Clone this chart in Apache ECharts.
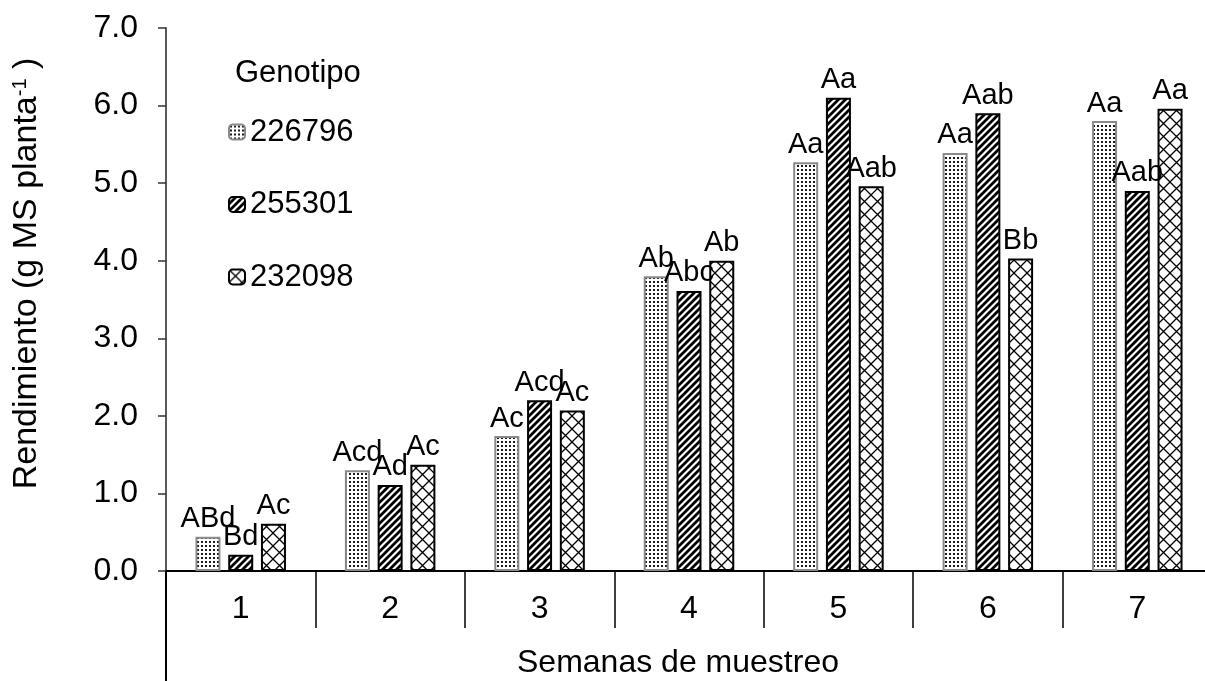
<!DOCTYPE html>
<html>
<head>
<meta charset="utf-8">
<script src="https://cdn.jsdelivr.net/npm/echarts@6/dist/echarts.min.js"></script>
<style>
html,body{margin:0;padding:0;background:#fff;overflow:hidden;}
#chart{width:1205px;height:681px;}
</style>
</head>
<body>
<div id="chart"></div>
<script>
// ---- data ----
var categories = ['1', '2', '3', '4', '5', '6', '7'];
var seriesNames = ['226796', '255301', '232098'];
var values226796 = [0.44, 1.30, 1.74, 3.80, 5.27, 5.39, 5.80];
var values255301 = [0.21, 1.11, 2.20, 3.61, 6.10, 5.90, 4.90];
var values232098 = [0.61, 1.37, 2.07, 4.00, 4.96, 4.03, 5.96];
var letters226796 = ['ABd', 'Acd', 'Ac', 'Ab', 'Aa', 'Aa', 'Aa'];
var letters255301 = ['Bd', 'Ad', 'Acd', 'Abc', 'Aa', 'Aab', 'Aab'];
var letters232098 = ['Ac', 'Ac', 'Ac', 'Ab', 'Aab', 'Bb', 'Aa'];
var yTicks = ['0.0', '1.0', '2.0', '3.0', '4.0', '5.0', '6.0', '7.0'];

var FONT = '"Liberation Sans", Arial, sans-serif';

function makeTile(w, h, draw) {
  var c = document.createElement('canvas');
  c.width = w; c.height = h;
  var ctx = c.getContext('2d');
  ctx.fillStyle = '#fff';
  ctx.fillRect(0, 0, w, h);
  draw(ctx, w, h);
  return c;
}
var dotTile = makeTile(4, 4, function (ctx) {
  ctx.fillStyle = '#1a1a1a';
  ctx.fillRect(1, 1, 2, 2);
});
var stripeTile = makeTile(7, 7, function (ctx, w, h) {
  ctx.strokeStyle = '#000';
  ctx.lineWidth = 2.8;
  ctx.beginPath();
  ctx.moveTo(0, h); ctx.lineTo(w, 0);
  ctx.moveTo(-w / 2, h / 2); ctx.lineTo(w / 2, -h / 2);
  ctx.moveTo(w / 2, h + h / 2); ctx.lineTo(w + w / 2, h / 2);
  ctx.stroke();
});
var crossTile = makeTile(13, 13, function (ctx, w, h) {
  ctx.strokeStyle = '#000';
  ctx.lineWidth = 1.3;
  ctx.beginPath();
  ctx.moveTo(0, 0); ctx.lineTo(w, h);
  ctx.moveTo(0, h); ctx.lineTo(w, 0);
  ctx.stroke();
});

function barSeries(name, values, letters, tile, border) {
  return {
    name: name,
    type: 'bar',
    barWidth: 25,
    barGap: '31%',
    data: values,
    itemStyle: {
      color: { image: tile, repeat: 'repeat' },
      borderColor: border,
      borderWidth: 2
    },
    label: {
      show: true,
      position: 'top',
      distance: 3,
      color: '#000',
      fontFamily: FONT,
      fontSize: 29,
      formatter: function (p) { return letters[p.dataIndex]; }
    }
  };
}

var chart = echarts.init(document.getElementById('chart'));
chart.setOption({
  animation: false,
  backgroundColor: '#fff',
  title: {
    text: 'Genotipo',
    left: 230,
    top: 53,
    textStyle: { fontFamily: FONT, fontSize: 31, fontWeight: 'normal', color: '#000' }
  },
  legend: {
    orient: 'vertical',
    left: 223,
    top: 110,
    itemWidth: 16,
    itemHeight: 15,
    itemGap: 38.5,
    data: seriesNames,
    textStyle: { fontFamily: FONT, fontSize: 31, color: '#000', lineHeight: 34 }
  },
  grid: { left: 166, top: 28, width: 1046, bottom: 110, containLabel: false, outerBoundsMode: 'none' },
  xAxis: [{
    type: 'category',
    data: categories,
    boundaryGap: true,
    axisLine: { lineStyle: { color: '#000', width: 2 } },
    axisTick: { show: true, interval: 0, length: 57, lineStyle: { color: '#000', width: 1.5 } },
    axisLabel: { interval: 0, margin: 22, color: '#000', fontFamily: FONT, fontSize: 32 },
    name: 'Semanas de muestreo',
    nameLocation: 'middle',
    nameGap: 76,
    nameTextStyle: { fontFamily: FONT, fontSize: 32, color: '#000', padding: [0, 22, 0, 0] }
  }, {
    type: 'category',
    data: categories,
    position: 'bottom',
    boundaryGap: true,
    axisLine: { show: false },
    axisLabel: { show: false },
    axisTick: {
      show: true,
      length: 115,
      interval: function (index) { return index === 0; },
      lineStyle: { color: '#000', width: 2 }
    }
  }],
  yAxis: {
    type: 'value',
    min: 0,
    max: 7,
    interval: 1,
    splitLine: { show: false },
    axisLine: { show: true, lineStyle: { color: '#595959', width: 2 } },
    axisTick: { show: true, length: 8, lineStyle: { color: '#333', width: 1.5 } },
    axisLabel: {
      margin: 28,
      color: '#000',
      fontFamily: FONT,
      fontSize: 32,
      formatter: function (v) { return yTicks[Math.round(v)]; }
    },
    name: '{a|Rendimiento (g MS planta}{s|-1}{a| )}',
    nameLocation: 'middle',
    nameGap: 122,
    nameRotate: 90,
    nameTextStyle: {
      padding: [0, 0, 0, 52],
      rich: {
        a: { fontFamily: FONT, fontSize: 34, color: '#000' },
        s: { fontFamily: FONT, fontSize: 20, color: '#000', verticalAlign: 'top', padding: [0, 0, 12, 0] }
      }
    }
  },
  series: [
    barSeries(seriesNames[0], values226796, letters226796, dotTile, '#8a8a8a'),
    barSeries(seriesNames[1], values255301, letters255301, stripeTile, '#000'),
    barSeries(seriesNames[2], values232098, letters232098, crossTile, '#000')
  ]
});
</script>
</body>
</html>
